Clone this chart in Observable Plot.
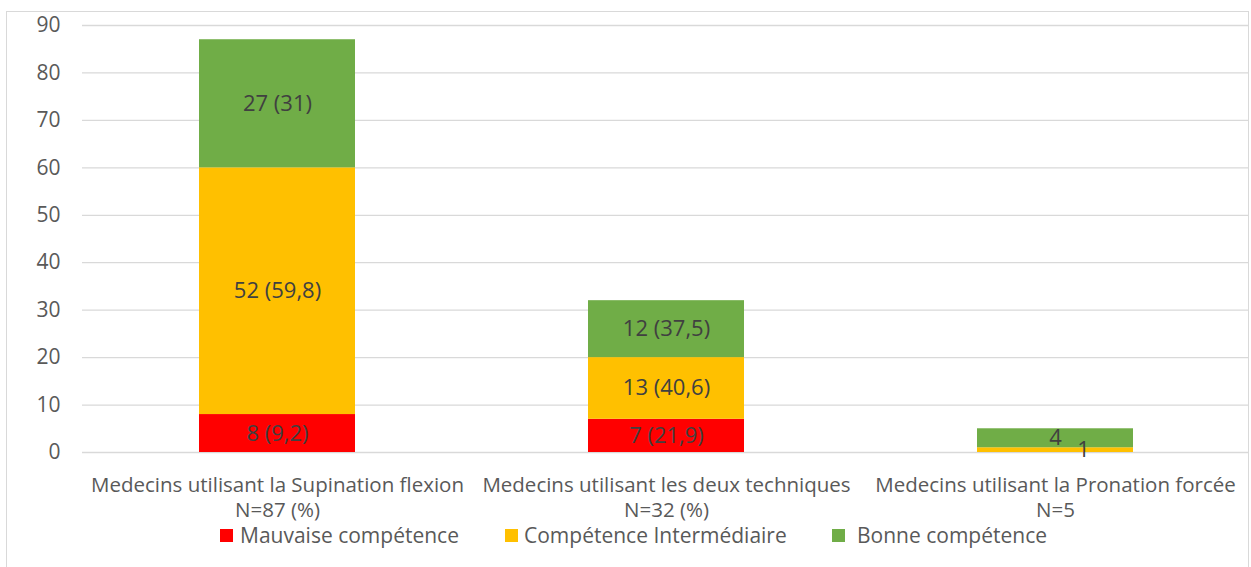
<!DOCTYPE html>
<html>
<head>
<meta charset="utf-8">
<script src="https://cdn.jsdelivr.net/npm/d3@7"></script>
<script src="https://cdn.jsdelivr.net/npm/@observablehq/plot@0.6"></script>
<style>
  html, body { margin: 0; padding: 0; background: #fff; }
  body { width: 1251px; height: 567px; overflow: hidden; position: relative; font-family: "Open Sans", sans-serif; }
  #frame { position: absolute; left: 6px; top: 11px; width: 1243px; height: 600px; border: 1.5px solid #D9D9D9; box-sizing: border-box; }
  #chart { position: absolute; left: 0; top: 0; }
  #legend { position: absolute; top: 0; left: 0; font-size: 21px; color: #595959; }
  .item { position: absolute; top: 522px; display: flex; align-items: center; white-space: nowrap; line-height: 26px; }
  .sw { width: 13px; height: 13px; }
</style>
</head>
<body>
<div id="frame"></div>
<div id="chart"></div>
<div id="legend"></div>
<script>
const categories = [
  "Medecins utilisant la Supination flexion\nN=87 (%)",
  "Medecins utilisant les deux techniques\nN=32 (%)",
  "Medecins utilisant la Pronation forcée\nN=5"
];
const seriesNames = ["Mauvaise compétence", "Compétence Intermédiaire", "Bonne compétence"];
const seriesColors = ["#FF0000", "#FFC000", "#70AD47"];
const mauvaise = [8, 7, 0];
const intermediaire = [52, 13, 1];
const bonne = [27, 12, 4];
const labelsMauvaise = ["8 (9,2)", "7 (21,9)", ""];
const labelsIntermediaire = ["52 (59,8)", "13 (40,6)", "1"];
const labelsBonne = ["27 (31)", "12 (37,5)", "4"];
const yTicks = [0, 10, 20, 30, 40, 50, 60, 70, 80, 90];

const seriesValues = [mauvaise, intermediaire, bonne];
const seriesLabels = [labelsMauvaise, labelsIntermediaire, labelsBonne];
const rows = [];
seriesNames.forEach((s, si) => {
  categories.forEach((c, ci) => {
    rows.push({cat: c, ci, si, series: s, value: seriesValues[si][ci], label: seriesLabels[si][ci]});
  });
});
// the tiny segment's label is nudged aside (as in the reference) to avoid overlapping its neighbour
const nudged = d => d.value > 0 && d.value < 2 && d.si < seriesNames.length - 1;

const chart = Plot.plot({
  width: 1251,
  height: 525,
  marginTop: 25,
  marginBottom: 73,
  marginLeft: 82,
  marginRight: 2,
  style: {fontFamily: "'Open Sans', sans-serif", color: "#595959", background: "transparent"},
  x: {domain: categories, paddingInner: 0.6, paddingOuter: 0.3, axis: null},
  y: {domain: [0, 90], ticks: yTicks, axis: null},
  color: {domain: seriesNames, range: seriesColors},
  marks: [
    Plot.ruleY(yTicks, {stroke: "#D9D9D9", strokeWidth: 1.3}),
    Plot.axisY({ticks: yTicks, tickSize: 0, tickPadding: 22, fontSize: 21, fill: "#595959", label: null}),
    Plot.barY(rows, {x: "cat", y: "value", fill: "series", z: "series", order: seriesNames}),
    Plot.text(rows, Plot.stackY({x: "cat", y: "value", z: "series", text: d => nudged(d) ? "" : d.label, order: seriesNames, fill: "#404040", fontSize: 22})),
    Plot.text(rows, Plot.stackY({x: "cat", y: "value", z: "series", text: d => nudged(d) ? d.label : "", order: seriesNames, fill: "#404040", fontSize: 22, dx: 28, dy: 0})),
    Plot.text(categories, {x: d => d, y: 0, text: d => d, lineAnchor: "top", dy: 22, lineHeight: 1.2, fontSize: 20.5, fill: "#595959"})
  ]
});
document.getElementById("chart").appendChild(chart);

const legend = document.getElementById("legend");
const itemLeft = [220, 505, 832];
const swatchGap = [7, 6, 12];
seriesNames.forEach((s, i) => {
  const it = document.createElement("div");
  it.className = "item";
  it.style.left = itemLeft[i] + "px";
  const sw = document.createElement("div");
  sw.className = "sw";
  sw.style.background = seriesColors[i];
  sw.style.marginRight = swatchGap[i] + "px";
  const t = document.createElement("span");
  t.textContent = s;
  it.appendChild(sw);
  it.appendChild(t);
  legend.appendChild(it);
});
</script>
</body>
</html>
